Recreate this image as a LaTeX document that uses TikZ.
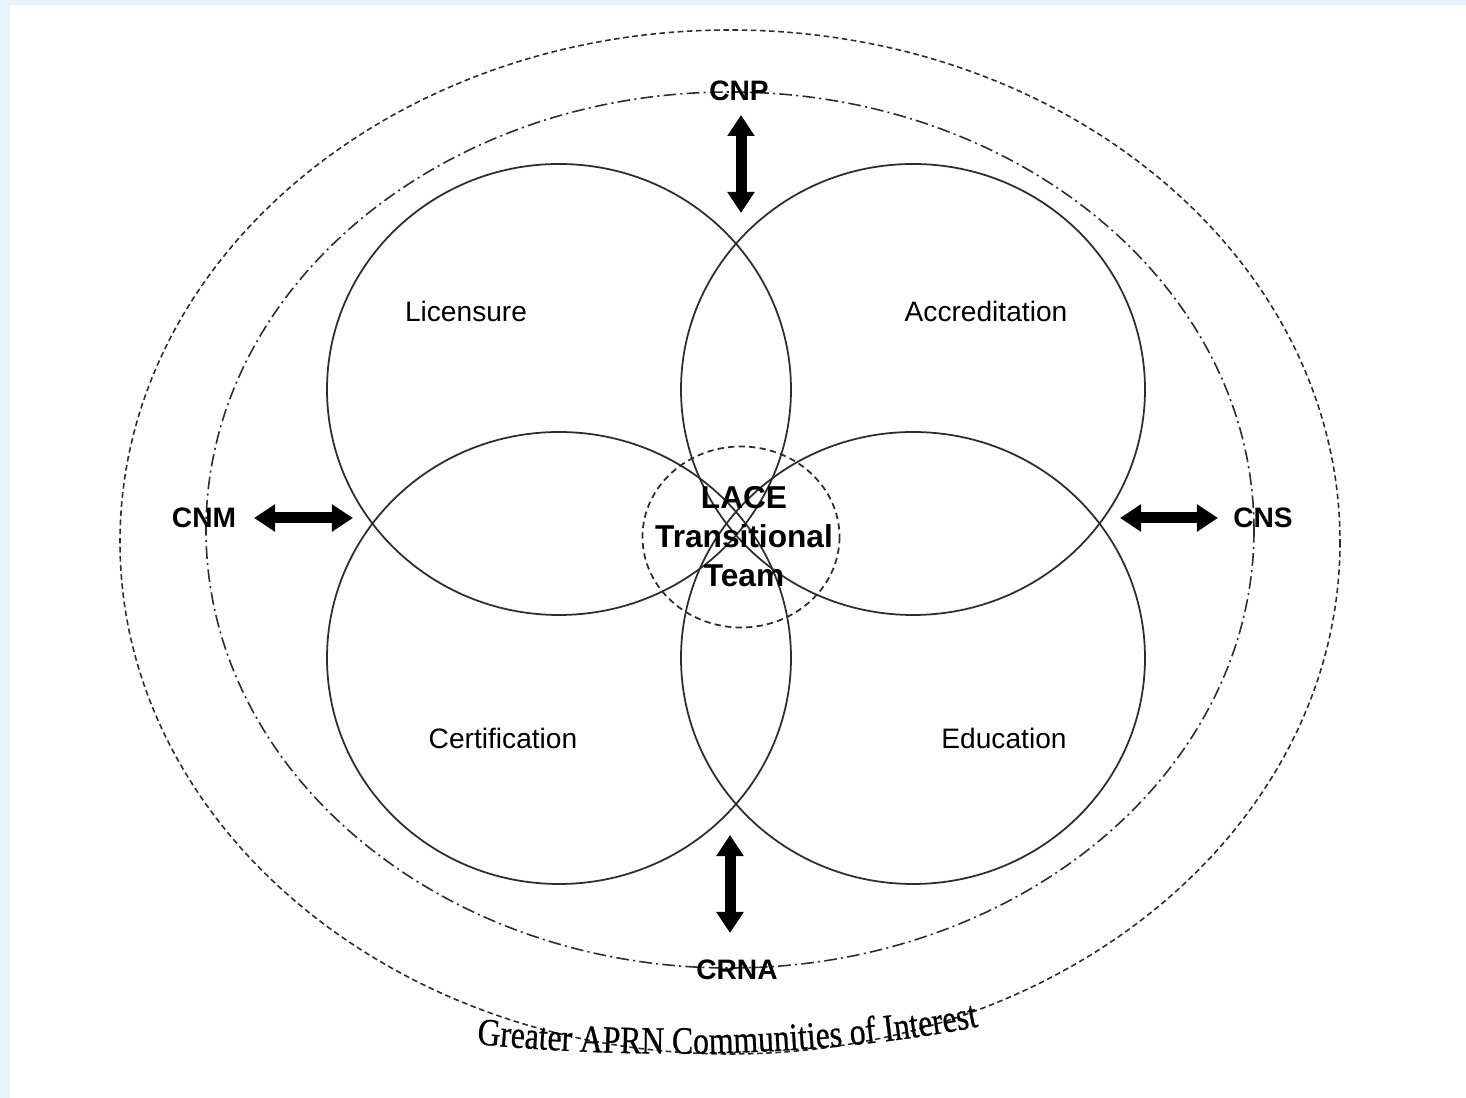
\documentclass[tikz,border=0pt]{standalone}
\usepackage{fontspec}
\setmainfont{Liberation Sans}
\newfontfamily\arcfont[FakeStretch=0.82,FakeBold=0.6]{Liberation Serif}
\usetikzlibrary{arrows.meta,decorations.text}
\definecolor{paleblue}{RGB}{232,244,252}
\definecolor{ink}{RGB}{45,45,45}
\begin{document}
\begin{tikzpicture}[x=0.01cm,y=-0.01cm,
  ring/.style={draw=ink,line width=0.5pt},
  outerring/.style={draw=ink,line width=0.45pt,dash pattern=on 1.6pt off 1pt},
  innerring/.style={draw=ink,line width=0.45pt,dash pattern=on 3.6pt off 1.2pt on 0.6pt off 1.2pt},
  teamring/.style={draw=ink,line width=0.5pt,dash pattern=on 1.8pt off 1.2pt},
  area/.style={font=\fontsize{8}{10}\selectfont},
  group/.style={font=\bfseries\fontsize{8}{10}\selectfont},
  bigarrow/.style={line width=0.11cm,{Triangle[width=0.26cm,length=0.21cm]}-{Triangle[width=0.26cm,length=0.21cm]}}]
\useasboundingbox (0,0) rectangle (1466,1098);
\fill[paleblue] (0,0) rectangle (1466,1098);
\fill[white] (10,5) rectangle (1466,1098);
% communities
\draw[outerring] (730,542) ellipse [x radius=610, y radius=512];
\draw[innerring] (730,530) ellipse [x radius=524, y radius=438];
% the four regulatory circles
\draw[ring] (559,389.5) ellipse [x radius=232, y radius=225.5];
\draw[ring] (913,389.5) ellipse [x radius=232, y radius=225.5];
\draw[ring] (559,658) ellipse [x radius=232, y radius=226];
\draw[ring] (913,658) ellipse [x radius=232, y radius=226];
\draw[teamring] (741,537) ellipse [x radius=98.5, y radius=90.5];
% labels
\node[area] (licensure) at (466,311) {Licensure};
\node[area] (accreditation) at (986,311) {Accreditation};
\node[area] (certification) at (503,738) {Certification};
\node[area] (education) at (1004,738) {Education};
\node[font=\bfseries\fontsize{9}{11.1}\selectfont,align=center] (lace) at (744,537) {LACE\\Transitional\\Team};
\node[group] (cnp) at (739,91) {CNP};
\node[group] (cnm) at (204,518) {CNM};
\node[group] (cns) at (1263,518) {CNS};
\node[group] (crna) at (737,970) {CRNA};
% arrows
\coordinate (cnp-a) at (741,115);
\coordinate (cnp-b) at (741,213);
\coordinate (cnm-a) at (254,518);
\coordinate (cnm-b) at (353,518);
\coordinate (cns-a) at (1120,518);
\coordinate (cns-b) at (1218,518);
\coordinate (crna-a) at (730,835);
\coordinate (crna-b) at (730,933);
\draw[bigarrow] (cnp-a) -- (cnp-b);
\draw[bigarrow] (cnm-a) -- (cnm-b);
\draw[bigarrow] (cns-a) -- (cns-b);
\draw[bigarrow] (crna-a) -- (crna-b);
% curved caption
\path[decorate,decoration={text along path,text align=center,
  text={|\arcfont\fontsize{11}{13}\selectfont|Greater APRN Communities of Interest}}]
  (455,1042) .. controls (620,1060) and (830,1060) .. (1000,1022);
\end{tikzpicture}
\end{document}
